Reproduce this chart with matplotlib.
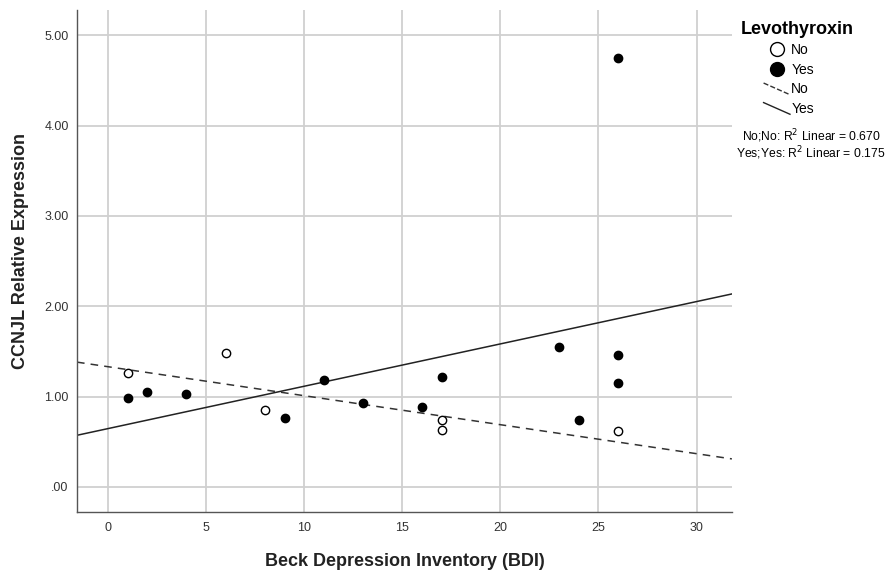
import numpy as np
import matplotlib
matplotlib.use("Agg")
import matplotlib.pyplot as plt
from matplotlib.lines import Line2D
from matplotlib.legend_handler import HandlerLine2D

plt.rcParams['font.family'] = ['Liberation Sans', 'DejaVu Sans']

# Levothyroxin = No (open circles)
bdi_no = [1, 6, 8, 17, 17, 26]
expr_no = [1.26, 1.48, 0.85, 0.74, 0.63, 0.62]

# Levothyroxin = Yes (filled circles)
bdi_yes = [1, 2, 4, 9, 11, 13, 16, 17, 23, 24, 26, 26, 26]
expr_yes = [0.98, 1.05, 1.03, 0.76, 1.18, 0.93, 0.88, 1.22, 1.55, 0.74, 1.46, 1.15, 4.75]

r2_labels = ["No;No: R$^2$ Linear = 0.670", "Yes;Yes: R$^2$ Linear = 0.175"]
xticks = [0, 5, 10, 15, 20, 25, 30]
yticks = [0, 1, 2, 3, 4, 5]
ytick_labels = [".00", "1.00", "2.00", "3.00", "4.00", "5.00"]


class DiagonalLine(HandlerLine2D):
    # legend line drawn as a short slope, like the SPSS legend
    def create_artists(self, legend, orig_handle, xdescent, ydescent, width, height, fontsize, trans):
        line = Line2D([0, width], [height * 1.05, -height * 0.15],
                      color=orig_handle.get_color(), linestyle=orig_handle.get_linestyle(),
                      linewidth=orig_handle.get_linewidth())
        line.set_transform(trans)
        return [line]


fig = plt.figure(figsize=(8.91, 5.75), dpi=100)
ax = fig.add_axes([0.0864, 0.1096, 0.735, 0.873])

xmin, xmax = -1.58, 31.8
ax.set_xlim(xmin, xmax)
ax.set_ylim(-0.277, 5.28)

ax.grid(True, color="#d0d0d0", linewidth=1.3)
ax.set_axisbelow(True)

# fit lines
xs = np.array([xmin, xmax])
b_no = np.polyfit(bdi_no, expr_no, 1)
b_yes = np.polyfit(bdi_yes, expr_yes, 1)
ax.plot(xs, np.polyval(b_no, xs), color="#333333", linestyle=(0, (5, 4)), linewidth=1.1)
ax.plot(xs, np.polyval(b_yes, xs), color="#222222", linestyle="-", linewidth=1.1)

ax.scatter(bdi_no, expr_no, s=36, facecolors="white", edgecolors="black", linewidths=1.0, zorder=3)
ax.scatter(bdi_yes, expr_yes, s=36, facecolors="black", edgecolors="black", linewidths=1.0, zorder=3)

ax.set_xticks(xticks)
ax.set_yticks(yticks)
ax.set_yticklabels(ytick_labels)
ax.tick_params(axis="both", labelsize=9, labelcolor="#333333", length=0)
ax.tick_params(axis="x", pad=7)
ax.tick_params(axis="y", pad=6)

for side in ["top", "right"]:
    ax.spines[side].set_visible(False)
for side in ["left", "bottom"]:
    ax.spines[side].set_color("#555555")
    ax.spines[side].set_linewidth(1.0)

ax.set_xlabel("Beck Depression Inventory (BDI)", fontsize=13, fontweight="bold", color="#222222")
ax.set_ylabel("CCNJL Relative Expression", fontsize=13, fontweight="bold", color="#222222")
ax.xaxis.set_label_coords(0.5, -0.082)
ax.yaxis.set_label_coords(-0.074, 0.52)

fig.text(0.831, 0.948, "Levothyroxin", fontsize=13, fontweight="bold", ha="left", va="center")

handles = [
    Line2D([], [], marker="o", linestyle="none", markerfacecolor="white", markeredgecolor="black", markersize=10),
    Line2D([], [], marker="o", linestyle="none", markerfacecolor="black", markeredgecolor="black", markersize=10),
    Line2D([], [], color="#333333", linestyle=(0, (3, 3)), linewidth=1.0),
    Line2D([], [], color="#222222", linestyle="-", linewidth=1.0),
]
fig.legend(handles, ["No", "Yes", "No", "Yes"], loc="upper left", bbox_to_anchor=(0.857, 0.925),
           frameon=False, fontsize=10, handlelength=1.9, handletextpad=0.1,
           labelspacing=0.4, borderpad=0.0, borderaxespad=0.0,
           handler_map={handles[2]: DiagonalLine(), handles[3]: DiagonalLine()})

fig.text(0.910, 0.763, r2_labels[0], fontsize=8.7, ha="center", va="center")
fig.text(0.910, 0.734, r2_labels[1], fontsize=8.7, ha="center", va="center")

fig.savefig("out.png", dpi=100)
